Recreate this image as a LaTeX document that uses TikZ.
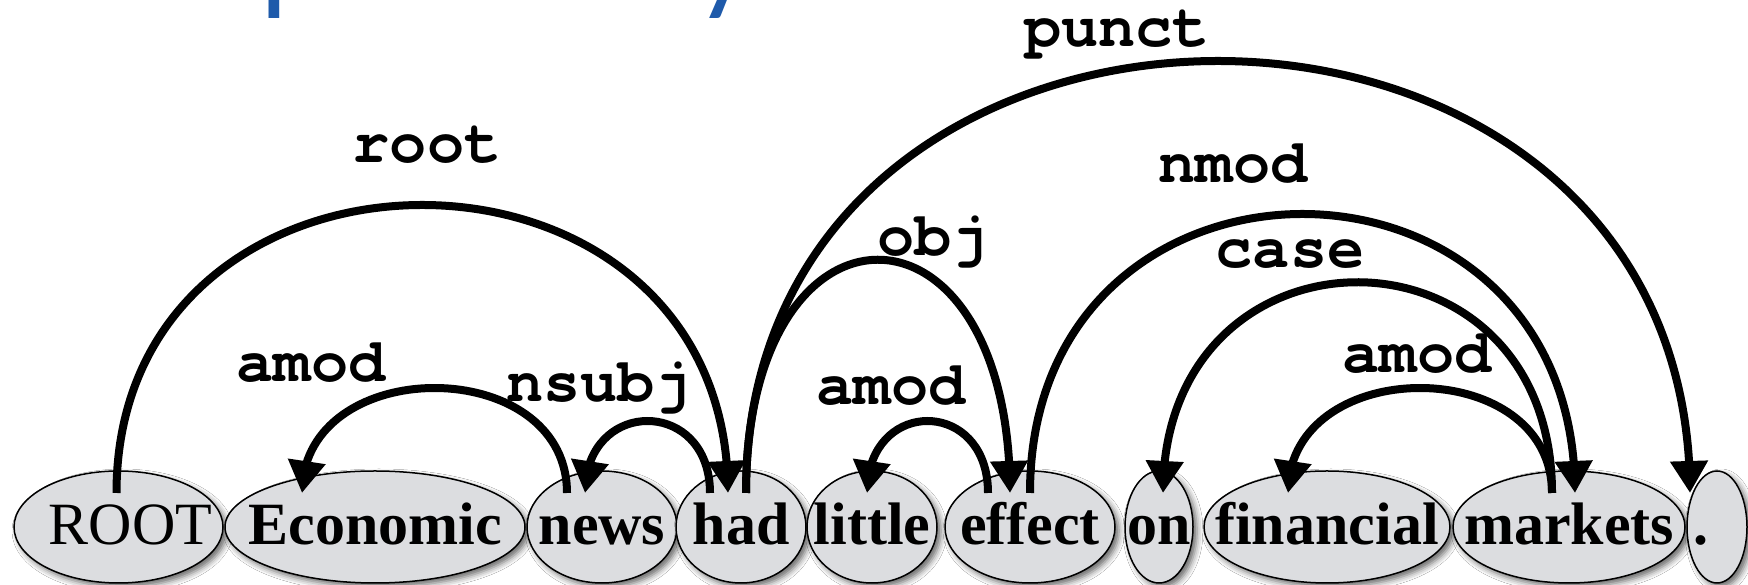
\documentclass[tikz,border=0pt]{standalone}
\usepackage{fontspec}
\setmainfont{Liberation Serif}
\newfontfamily\deplabelfont{TeX Gyre Cursor}
\newfontfamily\slidetitlefont{Carlito}
\usepackage{tikz}
\usetikzlibrary{arrows.meta,bending,shapes.geometric,shadows.blur}
\definecolor{tokengray}{RGB}{220,221,224}
\definecolor{titleblue}{RGB}{30,90,170}

\begin{document}
\begin{tikzpicture}[x=1pt,y=1pt,
  token/.style={ellipse,draw,line width=1.5pt,fill=tokengray,inner sep=0pt,
    minimum height=112pt,text height=42pt,text depth=6pt,
    font=\fontsize{60}{72}\selectfont\bfseries,
    blur shadow={shadow xshift=4pt,shadow yshift=-4pt,shadow blur radius=6pt,shadow opacity=60}},
  dep/.style={line width=8pt,-{Triangle[flex,length=32pt,width=36pt]}},
  deplabel/.style={anchor=base,inner sep=0pt,font=\deplabelfont\bfseries\fontsize{62}{70}\selectfont}]
\path[use as bounding box,fill=white] (0,0) rectangle (1748,585);

\node[anchor=base west,inner sep=0pt,text=titleblue,font=\slidetitlefont\fontsize{124}{150}\selectfont] (title) at (122,586.5) {Dependency};

\node[token,minimum width=209pt,font=\fontsize{60}{72}\selectfont] (root) at (118.5,58) {\makebox[0pt]{\hspace*{24pt}ROOT}};
\node[token,minimum width=300pt] (economic) at (375,58) {\makebox[0pt]{Economic}};
\node[token,minimum width=150pt] (news) at (602,58) {\makebox[0pt]{news}};
\node[token,minimum width=130pt] (had) at (741,58) {\makebox[0pt]{had}};
\node[token,minimum width=130pt] (little) at (872,58) {\makebox[0pt]{little}};
\node[token,minimum width=170pt] (effect) at (1030,58) {\makebox[0pt]{effect}};
\node[token,minimum width=68pt] (on) at (1159,58) {\makebox[0pt]{on}};
\node[token,minimum width=246pt] (financial) at (1327,58) {\makebox[0pt]{financial}};
\node[token,minimum width=232pt] (markets) at (1569,58) {\makebox[0pt]{markets}};
\node[token,minimum width=60pt] (period) at (1717,58) {\makebox[0pt]{.\hspace*{32pt}}};

\draw[dep] ([shift={(-2,34)}]root.center) .. controls +(0,384) and +(0,384) .. ([shift={(-13,34)}]had.center);
\draw[dep] ([shift={(-35,34)}]news.center) .. controls +(0,140) and +(0,140) .. ([shift={(-73,34)}]economic.center);
\draw[dep] ([shift={(-31,34)}]had.center) .. controls +(0,96) and +(0,96) .. ([shift={(-17,34)}]news.center);
\draw[dep] ([shift={(5,34)}]had.center) .. controls +(0,311) and +(0,311) .. ([shift={(-20,34)}]effect.center);
\draw[dep] ([shift={(5,34)}]had.center) .. controls +(0,576) and +(0,576) .. ([shift={(-27,34)}]period.center);
\draw[dep] ([shift={(-42,34)}]effect.center) .. controls +(0,96) and +(0,96) .. ([shift={(-5,34)}]little.center);
\draw[dep] ([shift={(0,34)}]effect.center) .. controls +(0,372) and +(0,372) .. ([shift={(6,34)}]markets.center);
\draw[dep] ([shift={(-17,34)}]markets.center) .. controls +(0,281) and +(0,281) .. ([shift={(4,34)}]on.center);
\draw[dep] ([shift={(-17,34)}]markets.center) .. controls +(0,140) and +(0,140) .. ([shift={(-39,34)}]financial.center);

\node[deplabel] (lbl-root) at (427,422) {root};
\node[deplabel] (lbl-amod1) at (311,203) {amod};
\node[deplabel] (lbl-nsubj) at (599,183) {nsubj};
\node[deplabel] (lbl-obj) at (933,329) {obj};
\node[deplabel] (lbl-amod2) at (891,180) {amod};
\node[deplabel] (lbl-punct) at (1117,538) {punct};
\node[deplabel] (lbl-nmod) at (1233,402) {nmod};
\node[deplabel] (lbl-case) at (1290,317) {case};
\node[deplabel] (lbl-amod3) at (1417,212) {amod};
\end{tikzpicture}
\end{document}
